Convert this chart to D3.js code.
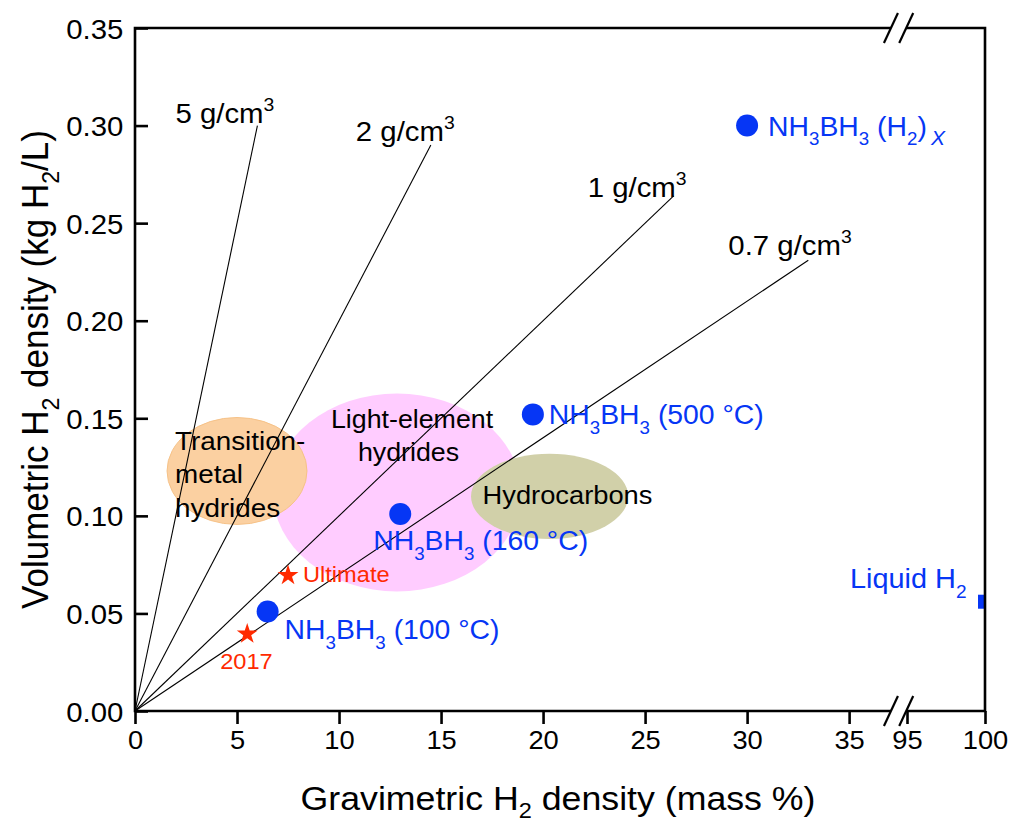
<!DOCTYPE html>
<html><head><meta charset="utf-8">
<script src="https://cdn.jsdelivr.net/npm/d3@7"></script>
<style>
body{margin:0;background:#fff}
svg{display:block}
text{font-family:Arial,"Liberation Sans",Helvetica,sans-serif}
</style>
</head><body>
<svg id="chart" width="1011" height="822"></svg>
<script>
// ---------------- data ----------------
const xTicksLeft = [0, 5, 10, 15, 20, 25, 30, 35];
const xTicksRight = [95, 100];
const yTicks = [0, 0.05, 0.10, 0.15, 0.20, 0.25, 0.30, 0.35];

const densities = [5, 2, 1, 0.7];                // g/cm3
const densityLabels = ["5 g/cm", "2 g/cm", "1 g/cm", "0.7 g/cm"];
const densityLineEndX = [6, 14.5, 26.4, 33];       // mass %

const nhbhLabels = ["(H2)x", "500", "160", "100"];
const nhbhX = [30, 19.5, 13, 6.5];
const nhbhY = [0.300, 0.152, 0.101, 0.051];

const liquidH2X = [100];
const liquidH2Y = [0.056];

const targetNames = ["Ultimate", "2017"];
const targetX = [7.5, 5.5];
const targetY = [0.070, 0.040];

const regionNames = ["Light-element hydrides", "Transition-metal hydrides", "Hydrocarbons"];
const regionCx = [12.84, 5.0, 20.32];
const regionCy = [0.112, 0.123, 0.110];
const regionRx = [6.08, 3.43, 3.85];
const regionRy = [0.0507, 0.0274, 0.0218];

// ---------------- layout ----------------
const SX = 1.05;               // horizontal text stretch of the original
const BLUE = "#0636f5", RED = "#ff2a00";
const svg = d3.select("#chart");

const x1 = d3.scaleLinear().domain([0, 37.2]).range([135, 894]);
const x2 = d3.scaleLinear().domain([95, 100]).range([907, 985]);
const X = v => v <= 50 ? x1(v) : x2(v);
const y = d3.scaleLinear().domain([0, 0.35]).range([711, 28]);
const pTop = y(0.35), pBottom = y(0), pLeft = x1(0), pRight = x2(100);

svg.append("defs").append("clipPath").attr("id", "plotclip")
  .append("rect").attr("x", pLeft).attr("y", pTop).attr("width", pRight - pLeft).attr("height", pBottom - pTop);

function richText(parent, x, yy, segs, opt) {
  const t = parent.append("text")
    .attr("transform", `translate(${x},${yy}) scale(${opt.sx || SX},1)${opt.rotate ? " rotate(" + opt.rotate + ")" : ""}`)
    .attr("font-size", opt.size).attr("fill", opt.fill || "#000")
    .attr("text-anchor", opt.anchor || "start");
  let shift = 0;
  const subOff = opt.subOff || 0.36;
  segs.forEach(s => {
    const kind = s[1];
    const ts = t.append("tspan").text(s[0]);
    let target = 0, fs = opt.size;
    if (kind === "sub") { target = opt.size * subOff; fs = opt.size * 0.66; }
    if (kind === "subi") { target = opt.size * subOff; fs = opt.size * 0.74; ts.attr("font-style", "italic"); }
    if (kind === "sup") { target = -opt.size * 0.42; fs = opt.size * 0.66; }
    ts.attr("font-size", fs).attr("dy", target - shift);
    shift = target;
  });
  return t;
}

// ---------------- regions ----------------
const regionFill = ["#ffccff", "#fbd0a1", "#d1d0a9"];
const regionStroke = ["none", "#f6c288", "none"];
const gReg = svg.append("g").attr("clip-path", "url(#plotclip)");
regionNames.forEach((n, i) => {
  gReg.append("ellipse")
    .attr("cx", X(regionCx[i])).attr("cy", y(regionCy[i]))
    .attr("rx", x1(regionRx[i]) - x1(0)).attr("ry", y(0) - y(regionRy[i]))
    .attr("fill", regionFill[i]).attr("stroke", regionStroke[i]).attr("stroke-width", 1);
});

// ---------------- density lines ----------------
const gLines = svg.append("g");
densities.forEach((d, i) => {
  const xe = densityLineEndX[i];
  gLines.append("line")
    .attr("x1", X(0)).attr("y1", y(0))
    .attr("x2", X(xe)).attr("y2", y(d * xe / 100))
    .attr("stroke", "#000").attr("stroke-width", 1.1);
});
const densLabelOff = [[-82, -3], [-75, -4], [-86, 1], [-80, -5]];
densities.forEach((d, i) => {
  const xe = densityLineEndX[i];
  richText(svg, X(xe) + densLabelOff[i][0], y(d * xe / 100) + densLabelOff[i][1],
    [[densityLabels[i]], ["3", "sup"]], { size: 28 });
});

// ---------------- region labels ----------------
const regionLines = [["Light-element", "hydrides"], ["Transition-", "metal", "hydrides"], ["Hydrocarbons"]];
const regionLabelOff = [[[-66, -64], [-39, -31]], [[-62, -21], [-62, 12], [-62, 46]], [[-67, 8]]];
const regionFont = [25.5, 26.5, 26];
regionLines.forEach((lines, i) => {
  lines.forEach((ln, j) => {
    richText(svg, X(regionCx[i]) + regionLabelOff[i][j][0], y(regionCy[i]) + regionLabelOff[i][j][1],
      [[ln]], { size: regionFont[i] });
  });
});

// ---------------- markers ----------------
const gM = svg.append("g").attr("clip-path", "url(#plotclip)");
nhbhX.forEach((v, i) => {
  gM.append("circle").attr("cx", X(v)).attr("cy", y(nhbhY[i])).attr("r", 11).attr("fill", BLUE);
});
liquidH2X.forEach((v, i) => {
  gM.append("rect").attr("x", X(v) - 7).attr("y", y(liquidH2Y[i]) - 7).attr("width", 14).attr("height", 14).attr("fill", BLUE);
});
const star = d3.symbol().type(d3.symbolStar).size(135);
targetX.forEach((v, i) => {
  gM.append("path").attr("d", star()).attr("transform", `translate(${X(v)},${y(targetY[i]) + 1})`).attr("fill", RED);
});

// ---------------- marker labels ----------------
const nhbhOff = [[21, 10], [16, 10], [-27, 36], [17, 28]];
nhbhLabels.forEach((lab, i) => {
  const segs = [["NH"], ["3", "sub"], ["BH"], ["3", "sub"]];
  if (lab === "(H2)x") { segs.push([" (H"], ["2", "sub"], [")"], ["\u2009X", "subi"]); }
  else { segs.push([" (" + lab + " \u00B0C)"]); }
  richText(svg, X(nhbhX[i]) + nhbhOff[i][0], y(nhbhY[i]) + nhbhOff[i][1], segs, { size: 27, fill: BLUE });
});
liquidH2X.forEach((v, i) => {
  richText(svg, X(v) - 135, y(liquidH2Y[i]) - 14, [["Liquid H"], ["2", "sub"]], { size: 27.5, fill: BLUE });
});
const targetOff = [[15, 8], [-27, 36]];
targetNames.forEach((n, i) => {
  richText(svg, X(targetX[i]) + targetOff[i][0], y(targetY[i]) + targetOff[i][1], [[n]], { size: 22.5, fill: RED });
});

// ---------------- axes ----------------
const AX = 2.6;
const fmtX = d3.format("d"), fmtY = d3.format(".2f");
function styleAxis(g, fs) {
  g.select(".domain").remove();
  g.selectAll(".tick line").attr("stroke", "#000").attr("stroke-width", AX);
  g.selectAll(".tick text").attr("font-size", fs).attr("fill", "#000")
    .attr("font-family", "Arial, 'Liberation Sans', sans-serif");
}
const gx1 = svg.append("g").attr("transform", `translate(0,${pBottom})`)
  .call(d3.axisBottom(x1).tickValues(xTicksLeft).tickSize(13).tickPadding(6).tickFormat(fmtX));
const gx2 = svg.append("g").attr("transform", `translate(0,${pBottom})`)
  .call(d3.axisBottom(x2).tickValues(xTicksRight).tickSize(13).tickPadding(6).tickFormat(fmtX));
const gy = svg.append("g").attr("transform", `translate(${pLeft},0)`)
  .call(d3.axisLeft(y).tickValues(yTicks).tickSize(-13).tickPadding(11).tickFormat(fmtY));
styleAxis(gx1, 26); styleAxis(gx2, 26); styleAxis(gy, 28);
[gx1, gx2].forEach(g => g.selectAll(".tick text").attr("dy", "0.74em")
  .attr("transform", `scale(${SX},1)`));
gy.selectAll(".tick text").attr("dy", "0.36em").attr("transform", `scale(${SX},1)`);

// frame with axis breaks
const b1 = x1(37.05), b2 = x2(94.95);
const frame = svg.append("g").attr("stroke", "#000").attr("stroke-width", AX).attr("fill", "none");
frame.append("path").attr("d", `M${b1},${pTop}H${pLeft}V${pBottom}H${b1}`).attr("stroke-linejoin", "miter");
frame.append("path").attr("d", `M${b2},${pTop}H${pRight}V${pBottom}H${b2}`).attr("stroke-linejoin", "miter");
[pTop, pBottom].forEach(yy => {
  [b1, b2].forEach(bx => {
    frame.append("line").attr("x1", bx - 7).attr("y1", yy + 15).attr("x2", bx + 7).attr("y2", yy - 15)
      .attr("stroke-width", 2.2);
  });
});

// axis titles
richText(svg, (pLeft + pRight) / 2 - 2, 810,
  [["Gravimetric H"], ["2", "sub"], [" density (mass %)"]], { size: 34, anchor: "middle", subOff: 0.24 });
richText(svg, 48, (pTop + pBottom) / 2,
  [["Volumetric H"], ["2", "sub"], [" density (kg H"], ["2", "sub"], ["/L)"]],
  { size: 35, anchor: "middle", rotate: -90, sx: 1.05, subOff: 0.3 });
</script>
</body></html>
